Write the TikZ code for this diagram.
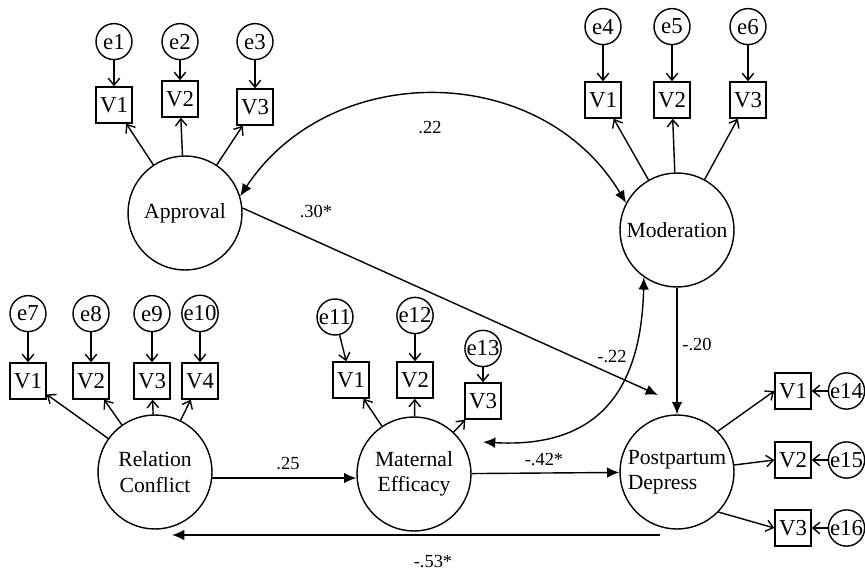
\documentclass[tikz,border=0pt]{standalone}
\usepackage{fontspec}
\setmainfont{Liberation Serif}
\usetikzlibrary{positioning}
\usetikzlibrary{arrows.meta}

\begin{document}
\begin{tikzpicture}
	[x=0.02cm,y=-0.02cm,align=center,line width=0.8pt,node distance=0.5cm,
	>={Straight Barb[length=4pt,width=6.5pt]},
	latent/.style={circle,draw,minimum size=2.28cm,inner sep=0pt,font=\fontsize{12.3}{14.5}\selectfont},
	obs/.style={rectangle,draw,minimum size=0.72cm,inner sep=0pt,font=\fontsize{13}{14}\selectfont},
	err/.style={circle,draw,minimum size=0.72cm,inner sep=0pt,font=\fontsize{13}{14}\selectfont},
	coef/.style={font=\fontsize{10.5}{12}\selectfont},
	path/.style={-{Latex[length=7pt,width=6pt]}},
	cov/.style={{Latex[length=7pt,width=6pt]}-{Latex[length=7pt,width=6pt]}}]
	\useasboundingbox (0,0) rectangle (865,575);
	\node[latent] (appr) at (185,213) {Approval};
	\node[latent] (mod) at (677,230) {Moderation};
	\node[latent] (rel) at (155,472) {Relation\\Conflict};
	\node[latent] (mat) at (414,474) {Maternal\\Efficacy};
	\node[latent,align=left] (post) at (677,472) {Postpartum\\Depress};
	\node[obs] (ap1) at (114,105) {V1};
	\node[obs] (ap2) at (180,99) {V2};
	\node[obs] (ap3) at (255,107) {V3};
	\node[obs] (mo1) at (603,100) {V1};
	\node[obs] (mo2) at (672,100) {V2};
	\node[obs] (mo3) at (748,100) {V3};
	\node[obs] (rc1) at (28,381) {V1};
	\node[obs] (rc2) at (91,381) {V2};
	\node[obs] (rc3) at (152,381) {V3};
	\node[obs] (rc4) at (200,381) {V4};
	\node[obs] (me1) at (351,380) {V1};
	\node[obs] (me2) at (415,380) {V2};
	\node[obs] (me3) at (483,401) {V3};
	\node[obs] (pp1) at (793,391) {V1};
	\node[obs] (pp2) at (793,460) {V2};
	\node[obs] (pp3) at (793,528) {V3};
	\node[err] (e1) [above=0.52cm of ap1] {e1};
	\node[err] (e2) [above=0.4cm of ap2] {e2};
	\node[err] (e3) [above=0.56cm of ap3] {e3};
	\node[err] (e4) [above=0.72cm of mo1] {e4};
	\node[err] (e5) [above=0.72cm of mo2] {e5};
	\node[err] (e6) [above=0.72cm of mo3] {e6};
	\node[err] (e7) [above=0.6cm of rc1] {e7};
	\node[err] (e8) [above=0.6cm of rc2] {e8};
	\node[err] (e9) [above=0.6cm of rc3] {e9};
	\node[err] (e10) [above=0.6cm of rc4] {e10};
	\node[err] (e11) at (335,317) {e11};
	\node[err] (e12) [above=0.54cm of me2] {e12};
	\node[err] (e13) [above=0.3cm of me3] {e13};
	\node[err] (e14) [right=0.32cm of pp1] {e14};
	\node[err] (e15) [right=0.32cm of pp2] {e15};
	\node[err] (e16) [right=0.32cm of pp3] {e16};
	\coordinate (p30) at (658,395);
	\coordinate (cme) at (483,442);
	\coordinate (b53) at (660,535);
	\coordinate (t53) at (172,535);
	\foreach \i/\v in {1/ap1,2/ap2,3/ap3,4/mo1,5/mo2,6/mo3,7/rc1,8/rc2,9/rc3,10/rc4,11/me1,12/me2,13/me3,14/pp1,15/pp2,16/pp3}
		\draw [->] (e\i) -- (\v);
	\foreach \v in {ap1,ap2,ap3}
		\draw [->] (appr) -- (\v);
	\foreach \v in {mo1,mo2,mo3}
		\draw [->] (mod) -- (\v);
	\foreach \v in {rc1,rc2,rc3,rc4}
		\draw [->] (rel) -- (\v);
	\foreach \v in {me1,me2,me3}
		\draw [->] (mat) -- (\v);
	\draw [->] (post.45) -- (pp1.west);
	\draw [->] (post.7) -- (pp2.west);
	\draw [->] (post.-44) -- (pp3.west);
	\draw [cov] (appr.17) .. controls (330,60) and (540,60) .. (mod.152);
	\draw [cov] (mod.235) .. controls (641,400) and (590,448) .. (cme);
	\draw [path] (appr.5) -- (p30);
	\draw [path] (mod) -- (post);
	\draw [path] (rel.-6) -- (rel.-6 -| mat.west);
	\draw [path] (mat) -- (post);
	\draw [path] (b53) -- (t53);
	\node[coef] (c22) at (430,128) {.22};
	\node[coef] (c30) at (316,211) {.30*};
	\node[coef] (cm22) at (612,357) {-.22};
	\node[coef] (cm20) at (697,344) {-.20};
	\node[coef] (c25) at (288,464) {.25};
	\node[coef] (cm42) at (544,460) {-.42*};
	\node[coef] (cm53) at (433,562) {-.53*};
\end{tikzpicture}
\end{document}
